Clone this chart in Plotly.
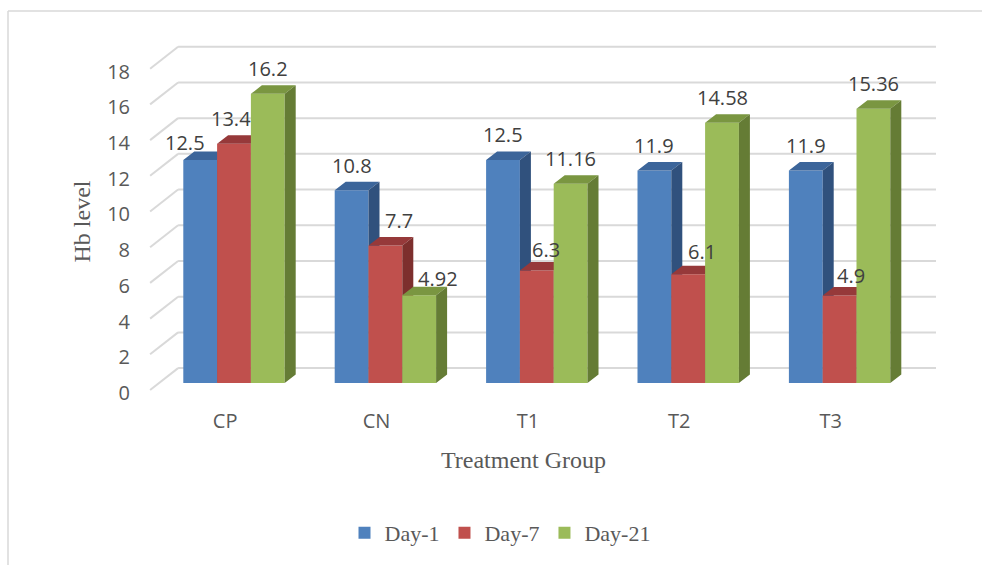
import plotly.graph_objects as go

# ---- data ----
groups = ["CP", "CN", "T1", "T2", "T3"]
series_names = ["Day-1", "Day-7", "Day-21"]
day1 = [12.5, 10.8, 12.5, 11.9, 11.9]
day7 = [13.4, 7.7, 6.3, 6.1, 4.9]
day21 = [16.2, 4.92, 11.16, 14.58, 15.36]
y_ticks = [0, 2, 4, 6, 8, 10, 12, 14, 16, 18]

# ---- styling ----
W, H = 982, 565
L, R, T, B = 131, 960, 20, 404           # plot area in pixels
PX_X = 151.4                             # pixels per category step
PX_Y = 17.9                              # pixels per Hb unit
X0_PX, Y0_PX = 234, 384                  # pixel of first category / zero on bar plane

front_c = ["#4f81bd", "#c0504d", "#9bbb59"]
top_c = ["#3c659a", "#96393a", "#7a9641"]
side_c = ["#30517d", "#7d2f2d", "#657c35"]
grid_c = "#d9d9d9"
text_c = "#595959"
label_c = "#404040"

bar_w = 33.8 / PX_X
offsets = [-1.5 * bar_w, -0.5 * bar_w, 0.5 * bar_w]
ddx, ddy = 11 / PX_X, 8.5 / PX_Y          # depth of each column
# wall planes relative to the bar plane
front_dx, front_dy = -8.9 / PX_X, -7 / PX_Y
back_dx, back_dy = 19.1 / PX_X, 15 / PX_Y
back_right = (936 - X0_PX) / PX_X
bar_left = (159 - X0_PX) / PX_X
tick_nudge = -3 / PX_Y                    # optical centring of the value-axis labels

xr = [(L - X0_PX) / PX_X, (R - X0_PX) / PX_X]
yr = [(Y0_PX - B) / PX_Y, (Y0_PX - T) / PX_Y]

xs = list(range(len(groups)))
values = [day1, day7, day21]

fig = go.Figure()
yaxes = ["y", "y2", "y3"]
for s, (name, vals) in enumerate(zip(series_names, values)):
    ya = yaxes[s]
    fig.add_trace(go.Bar(
        x=xs, y=vals, name=name, width=bar_w, offset=offsets[s],
        marker=dict(color=front_c[s], line=dict(width=0)),
        xaxis="x", yaxis=ya, hoverinfo="x+y"))
    tx, ty, sx, sy = [], [], [], []
    for i, v in zip(xs, vals):
        x0 = i + offsets[s]
        x1 = x0 + bar_w
        tx += [x0, x1, x1 + ddx, x0 + ddx, x0, None]
        ty += [v, v, v + ddy, v + ddy, v, None]
        sx += [x1, x1, x1 + ddx, x1 + ddx, x1, None]
        sy += [0, v, v + ddy, ddy, 0, None]
    fig.add_trace(go.Scatter(x=tx, y=ty, fill="toself", fillcolor=top_c[s],
                             mode="lines", line=dict(width=0), showlegend=False,
                             hoverinfo="skip", xaxis="x", yaxis=ya))
    fig.add_trace(go.Scatter(x=sx, y=sy, fill="toself", fillcolor=side_c[s],
                             mode="lines", line=dict(width=0), showlegend=False,
                             hoverinfo="skip", xaxis="x", yaxis=ya))

# back wall and side wall grid
shapes = []
for v in y_ticks:
    shapes.append(dict(type="line", xref="x", yref="y", layer="below",
                       x0=bar_left + back_dx, x1=back_right,
                       y0=v + back_dy, y1=v + back_dy,
                       line=dict(color=grid_c, width=2)))
    shapes.append(dict(type="line", xref="x", yref="y", layer="below",
                       x0=bar_left + front_dx, x1=bar_left + back_dx,
                       y0=v + front_dy, y1=v + back_dy,
                       line=dict(color=grid_c, width=2)))
# chart frame
shapes.append(dict(type="line", xref="paper", yref="paper", layer="below",
                   x0=(8 - L) / (R - L), x1=(985 - L) / (R - L),
                   y0=(B - 11) / (B - T), y1=(B - 11) / (B - T),
                   line=dict(color=grid_c, width=1.5)))
shapes.append(dict(type="line", xref="paper", yref="paper", layer="below",
                   x0=(8 - L) / (R - L), x1=(8 - L) / (R - L),
                   y0=(B - 11) / (B - T), y1=(B - 570) / (B - T),
                   line=dict(color=grid_c, width=1.5)))

# value labels, nudged where a neighbouring column is taller
nudge = {(0, 0): (-15, -7.5), (0, 1): (-3.5, 0), (1, 1): (14, 0), (1, 2): (19, -8),
         (2, 1): (9, -4), (3, 1): (13.5, -2), (4, 1): (11, -5)}
annotations = []
for s, vals in enumerate(values):
    for i, v in zip(xs, vals):
        nx, ny = nudge.get((i, s), (0, 0))
        annotations.append(dict(
            x=i + offsets[s] + bar_w / 2, y=v, xref="x", yref="y",
            text=f"{v:g}", showarrow=False, xanchor="center", yanchor="middle",
            xshift=nx, yshift=25 + ny,
            font=dict(family="Open Sans", size=20, color=label_c)))

annotations.append(dict(text="Treatment Group", xref="paper", yref="paper",
                        x=(523 - L) / (R - L), y=(B - 461) / (B - T),
                        showarrow=False, xanchor="center", yanchor="middle",
                        font=dict(family="Liberation Serif", size=24, color=text_c)))
annotations.append(dict(text="Hb level", xref="paper", yref="paper",
                        x=(82 - L) / (R - L), y=(B - 222) / (B - T), textangle=-90,
                        showarrow=False, xanchor="center", yanchor="middle",
                        font=dict(family="Liberation Serif", size=24, color=text_c)))

hidden_y = dict(range=yr, visible=False, showgrid=False, zeroline=False,
                overlaying="y", anchor="x")
fig.update_layout(
    width=W, height=H,
    margin=dict(l=L, r=W - R, t=T, b=H - B, pad=0),
    paper_bgcolor="white", plot_bgcolor="rgba(0,0,0,0)",
    barmode="overlay",
    xaxis=dict(range=xr, showgrid=False, zeroline=False, showline=False, ticks="",
               tickvals=[x + front_dx for x in xs], ticktext=groups,
               ticklabelstandoff=4,
               tickfont=dict(family="Open Sans", size=20, color=text_c)),
    yaxis=dict(range=yr, showgrid=False, zeroline=False, showline=False, ticks="",
               tickvals=[v + front_dy + tick_nudge for v in y_ticks],
               ticktext=[str(v) for v in y_ticks],
               tickfont=dict(family="Open Sans", size=20, color=text_c)),
    yaxis2=hidden_y, yaxis3=hidden_y,
    shapes=shapes, annotations=annotations,
    showlegend=True,
    legend=dict(orientation="h", x=(500 - L) / (R - L), y=(B - 533) / (B - T),
                xanchor="center", yanchor="middle", traceorder="normal",
                font=dict(family="Liberation Serif", size=22, color=text_c)),
)

fig.write_html("out.html")
